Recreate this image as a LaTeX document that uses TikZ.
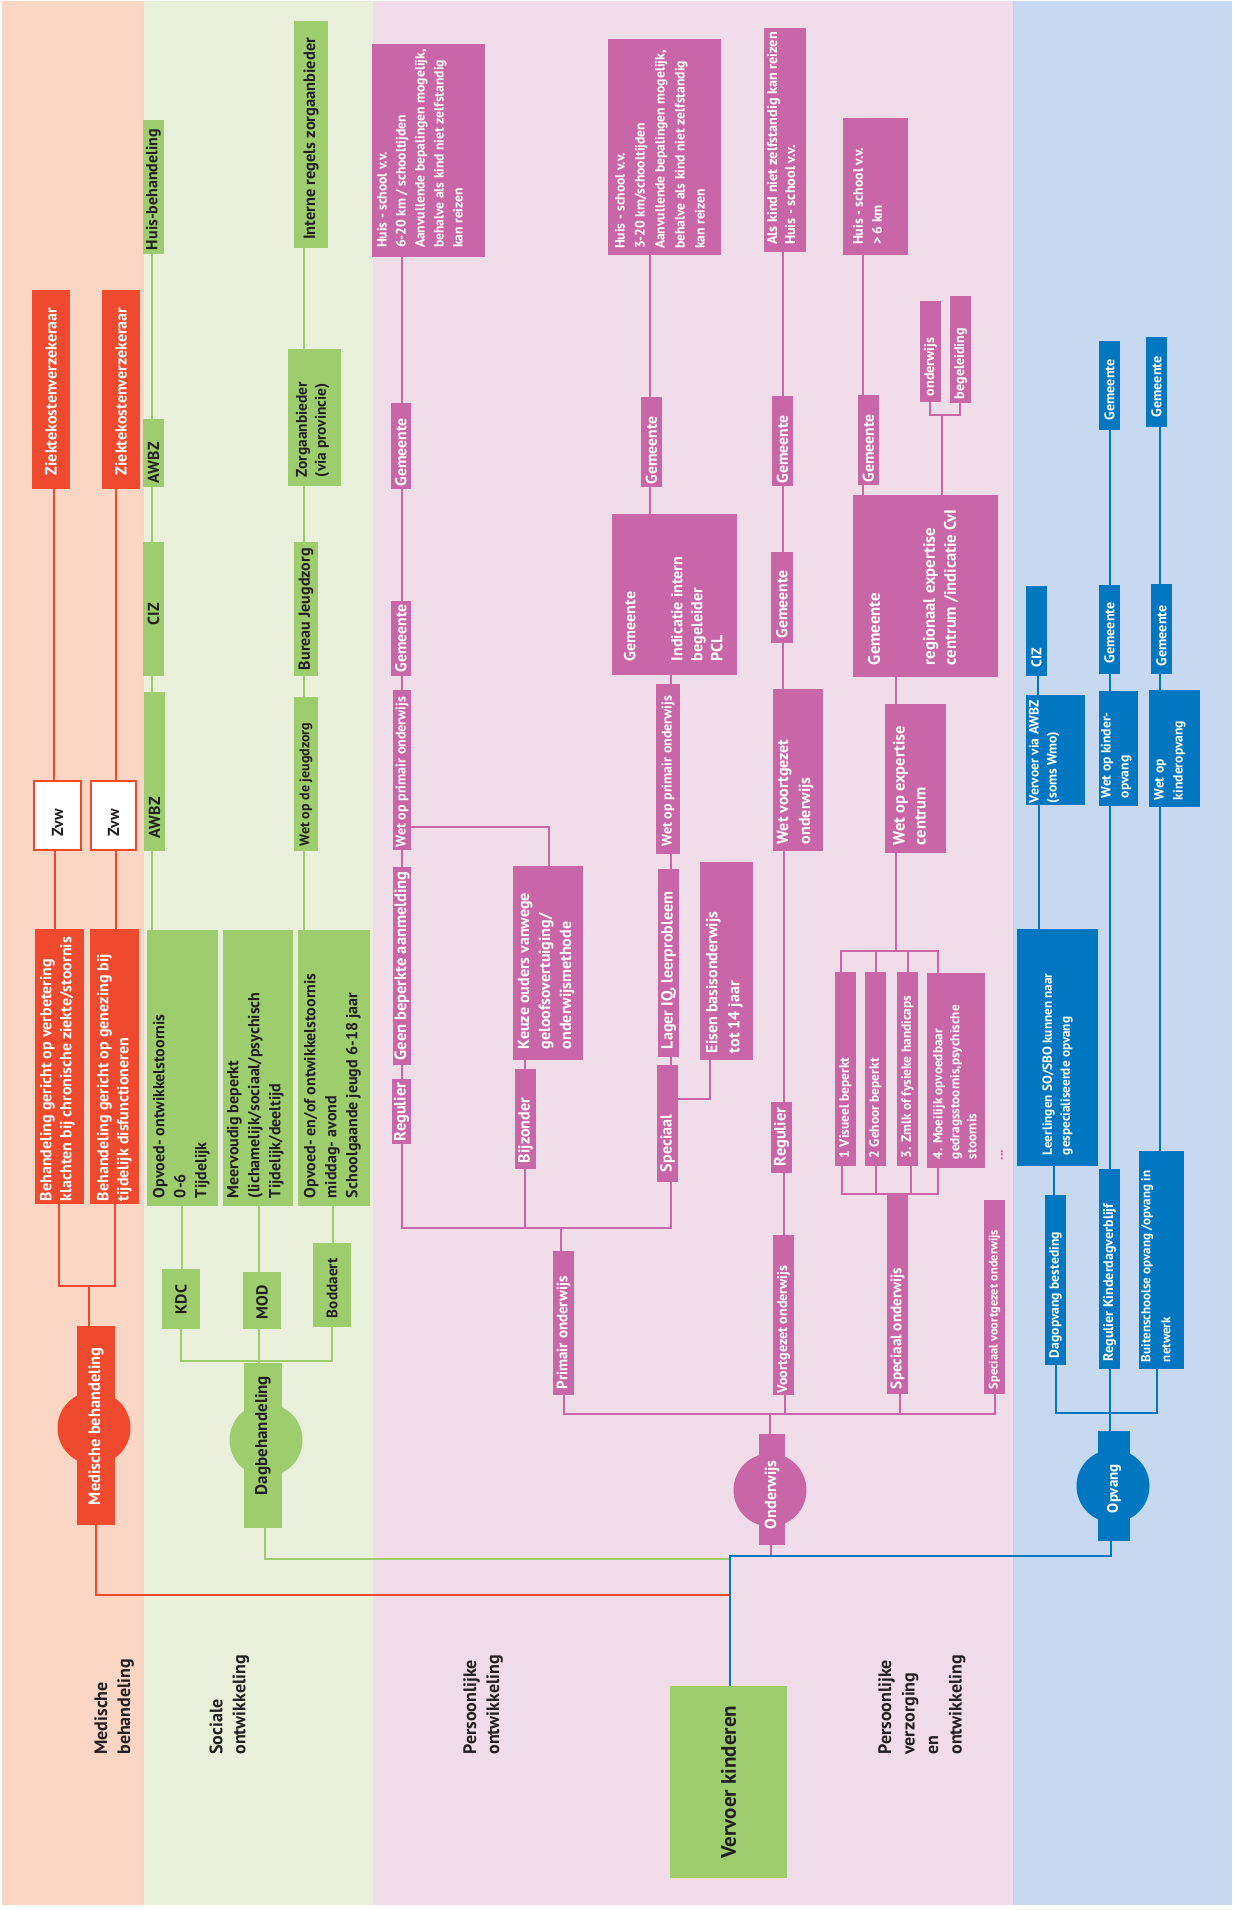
\documentclass[tikz,border=0pt]{standalone}
\usepackage{fontspec}
\setmainfont{PT Sans}
\usetikzlibrary{fit}
\definecolor{cR}{HTML}{EF4A2E}
\definecolor{cG}{HTML}{9DCD6D}
\definecolor{cP}{HTML}{C966A7}
\definecolor{cB}{HTML}{0077C0}
\definecolor{cK}{HTML}{231F20}
\definecolor{bgR}{HTML}{FBD6C4}
\definecolor{bgG}{HTML}{E9F1DD}
\definecolor{bgP}{HTML}{F1DDEA}
\definecolor{bgB}{HTML}{C7D9F0}
\newcommand\fz[2]{\fontsize{#1}{#2}\selectfont\bfseries}
% box with text anchored at bottom-left
\newcommand\bx[8]{%
  \node[fit={#3 #4}, #2] (#1) {};
  \node[#5] (#1t) at ([shift={(#6,-#7)}]#1.south west) {#8};}
% box with text centred across, starting at bottom
\newcommand\bxc[7]{%
  \node[fit={#3 #4}, #2] (#1) {};
  \node[#5, anchor=west] (#1t) at ([shift={(0,-#6)}]#1.south) {#7};}
\begin{document}
\begin{tikzpicture}[x=0.5pt,y=-0.5pt,
  bR/.style={fill=cR, inner sep=0pt},
  bG/.style={fill=cG, inner sep=0pt},
  bP/.style={fill=cP, inner sep=0pt},
  bB/.style={fill=cB, inner sep=0pt},
  bZ/.style={fill=white, draw=cR, line width=1pt, inner sep=0pt},
  tx/.style={rotate=90, anchor=north west, inner sep=0pt, align=left, font={\fz{8}{10.5}}},
  tW/.style={tx, text=white},
  tK/.style={tx, text=cK},
  lR/.style={draw=cR, line width=1pt},
  lG/.style={draw=cG, line width=1pt},
  lP/.style={draw=cP, line width=1pt},
  lB/.style={draw=cB, line width=1pt},
  circ/.style={circle, minimum size=36.5pt, inner sep=0pt}]
\useasboundingbox (0,0) rectangle (1232,1910);
% lanes
\fill[bgR] (2,1) rectangle (143,1905);
\fill[bgG] (143,1) rectangle (373,1905);
\fill[bgP] (373,1) rectangle (1013,1905);
\fill[bgB] (1013,1) rectangle (1232,1905);
\draw[draw=cR!25, line width=0.4pt] (143,1) -- (143,1905);
\draw[draw=cG!40, line width=0.4pt] (373,1) -- (373,1905);
\draw[draw=cB!30, line width=0.4pt] (1013,1) -- (1013,1905);

% x coordinates of connectors
\foreach \v in {54,55,59,89,115,116,152,181,182,259,265,304,332,333,402,525,549,561,564,650,671,710,730,771,783,784,785,841,842,863,876,896,900,908,911,930,938,942,960,995,1038,1039,1054,1056,1110,1157,1160}
  {\coordinate (X\v) at (\v,0);}
\coordinate (RJ) at (89,1286);
\coordinate (RE) at (730,1595);
\coordinate (GJ) at (259,1361);
\coordinate (GE) at (730,1559);
\coordinate (BE) at (730,1556);
\coordinate (BO) at (1111,1556);
\coordinate (PJ) at (561,1228);
\coordinate (PK) at (549,827);
\coordinate (PE) at (0,1099);
\coordinate (OJ) at (942,415);
\coordinate (BJ) at (896,951);
\coordinate (SJ) at (897,1194);
\coordinate (HJ) at (770,1414);
\coordinate (QJ) at (1110,1413);

% ---------- medical ----------
\bxc{zk1}{bR}{(32,290)}{(70,489)}{tW}{14}{Ziektekostenverzekeraar}
\bxc{zk2}{bR}{(102,290)}{(140,489)}{tW}{14}{Ziektekostenverzekeraar}
\bxc{zvw1}{bZ}{(34,781)}{(81,850)}{tK}{14}{Zvw}
\bxc{zvw2}{bZ}{(91,781)}{(136,850)}{tK}{14}{Zvw}
\bx{beh1}{bR}{(35,929)}{(84,1204)}{tW,font={\fz{8}{10}}}{5}{3}{Behandeling gericht op verbetering\\klachten bij chronische ziekte/stoornis}
\bx{beh2}{bR}{(90,929)}{(139,1204)}{tW,font={\fz{8}{10}}}{7}{3}{Behandeling gericht op genezing bij\\tijdelijk disfunctioneren}
\node[circ, fill=cR] (medc) at (94,1428) {};
\bxc{medr}{bR}{(77,1326)}{(115,1525)}{tW,font={\fz{8.2}{10}}}{20}{Medische behandeling}

% ---------- social ----------
\bxc{huisb}{bG}{(143,120)}{(164,254)}{tK}{4}{Huis-behandeling}
\bxc{awbz1}{bG}{(143,419)}{(164,487)}{tK}{4}{AWBZ}
\bxc{ciz1}{bG}{(143,542)}{(164,676)}{tK}{51}{CIZ}
\bxc{awbz2}{bG}{(144,692)}{(165,851)}{tK}{13}{AWBZ}
\bxc{intern}{bG}{(294,21)}{(328,248)}{tK,font={\fz{8.2}{10}}}{8}{Interne regels zorgaanbieder}
\bx{zorg}{bG}{(288,349)}{(341,486)}{tK,font={\fz{7.7}{9.5}}}{8}{9}{Zorgaanbieder\\(via provincie)}
\bxc{bjz}{bG}{(294,542)}{(318,676)}{tK}{6}{Bureau Jeugdzorg}
\bxc{wjz}{bG}{(294,697)}{(318,851)}{tK,font={\fz{7}{9}}}{5}{Wet op de jeugdzorg}
\bx{gA}{bG}{(147,930)}{(218,1206)}{tK}{6}{8}{Opvoed- ontwikkelstoornis\\0-6\\Tijdelijk}
\bx{gB}{bG}{(223,930)}{(293,1206)}{tK}{4}{8}{Meervoudig beperkt\\(lichamelijk/sociaal/psychisch\\Tijdelijk/deeltijd}
\bx{gC}{bG}{(298,930)}{(370,1206)}{tK}{6}{8}{Opvoed- en/of ontwikkelstoornis\\middag- avond\\Schoolgaande jeugd 6-18 jaar}
\bxc{kdc}{bG}{(162,1269)}{(200,1329)}{tK}{15}{KDC}
\bxc{mod}{bG}{(243,1272)}{(281,1329)}{tK}{10}{MOD}
\bxc{bod}{bG}{(313,1243)}{(351,1327)}{tK,font={\fz{7.6}{9}}}{9}{Boddaert}
\node[circ, fill=cG] (dagc) at (266,1440) {};
\bxc{dagr}{bG}{(244,1363)}{(282,1528)}{tK,font={\fz{8.5}{10}}}{33}{Dagbehandeling}

% ---------- personal: primary ----------
\bx{hs1}{bP}{(372,44)}{(485,257)}{tW,font={\fz{6.8}{9.5}}}{5}{9}{Huis - school v.v.\\6-20 km / schooltijden\\Aanvullende bepalingen mogelijk,\\behalve als kind niet zelfstandig\\kan reizen}
\bxc{g1a}{bP}{(391,403)}{(411,489)}{tW,font={\fz{7.8}{9}}}{3}{Gemeente}
\bxc{g1b}{bP}{(391,601)}{(411,676)}{tW,font={\fz{7.8}{9}}}{4}{Gemeente}
\bxc{wpo1}{bP}{(393,690)}{(411,850)}{tW,font={\fz{7}{9}}}{3}{Wet op primair onderwijs}
\bxc{geen}{bP}{(393,867)}{(411,1065)}{tW,font={\fz{8.2}{9}}}{5}{Geen beperkte aanmelding}
\bxc{reg1}{bP}{(392,1079)}{(411,1144)}{tW,font={\fz{8.2}{9}}}{3}{Regulier}
\bx{keuze}{bP}{(513,866)}{(583,1060)}{tW}{5}{11}{Keuze ouders vanwege\\geloofsovertuiging/\\onderwijsmethode}
\bxc{bijz}{bP}{(515,1069)}{(536,1169)}{tW}{6}{Bijzonder}
\bxc{prim}{bP}{(553,1251)}{(574,1395)}{tW,font={\fz{7.5}{9}}}{6}{Primair onderwijs}
\bx{hs2}{bP}{(608,39)}{(721,255)}{tW,font={\fz{6.8}{10}}}{7}{6}{Huis - school v.v.\\3-20 km/schooltijden\\Aanvullende bepalingen mogelijk,\\behalve als kind niet zelfstandig\\kan reizen}
\bxc{g2a}{bP}{(641,397)}{(662,487)}{tW,font={\fz{7.8}{9}}}{3}{Gemeente}
\bx{ind}{bP}{(612,514)}{(737,675)}{tW,font={\fz{8}{10}}}{12}{14}{Gemeente\\[13.5pt]Indicatie intern\\begeleider\\PCL}
\bxc{wpo2}{bP}{(656,684)}{(680,854)}{tW,font={\fz{7}{9}}}{8}{Wet op primair onderwijs}
\bxc{lager}{bP}{(658,869)}{(679,1057)}{tW}{8}{Lager IQ, leerprobleem}
\bxc{spec}{bP}{(657,1065)}{(678,1182)}{tW}{10}{Speciaal}
\bx{eisen}{bP}{(700,862)}{(753,1060)}{tW,font={\fz{8}{11}}}{6}{7}{Eisen basisonderwijs\\tot 14 jaar}

% ---------- personal: secondary ----------
\bx{hs3}{bP}{(764,28)}{(806,252)}{tW,font={\fz{7.1}{9}}}{3}{7}{Als kind niet zelfstandig kan reizen\\Huis - school v.v.}
\bxc{g3a}{bP}{(772,396)}{(793,486)}{tW,font={\fz{7.8}{9}}}{3}{Gemeente}
\bxc{g3b}{bP}{(771,552)}{(793,643)}{tW,font={\fz{7.8}{9}}}{5}{Gemeente}
\bx{wvo}{bP}{(773,689)}{(823,851)}{tW,font={\fz{8}{11}}}{4}{7}{Wet voortgezet\\onderwijs}
\bxc{reg3}{bP}{(771,1102)}{(792,1173)}{tW,font={\fz{8.2}{9}}}{7}{Regulier}
\bxc{vo}{bP}{(773,1235)}{(794,1395)}{tW,font={\fz{7}{9}}}{2}{Voortgezet onderwijs}

% ---------- personal: expertise ----------
\bx{hs4}{bP}{(843,118)}{(908,255)}{tW,font={\fz{6.9}{9.5}}}{10}{10}{Huis - school v.v.\\\textgreater{} 6 km}
\bxc{g4}{bP}{(858,395)}{(879,485)}{tW,font={\fz{7.8}{9}}}{3}{Gemeente}
\bxc{ondw}{bP}{(920,301)}{(941,402)}{tW,font={\fz{7}{9}}}{6}{onderwijs}
\bxc{begl}{bP}{(950,296)}{(971,403)}{tW,font={\fz{7}{9}}}{4}{begeleiding}
\bx{rec}{bP}{(853,495)}{(998,677)}{tW,font={\fz{8.3}{10.5}}}{15}{12}{Gemeente\\[17pt]regionaal expertise\\centrum /indicatie CvI}
\bx{woec}{bP}{(885,704)}{(946,853)}{tW,font={\fz{8.2}{10.5}}}{8}{8}{Wet op expertise\\centrum}
\bxc{vis}{bP}{(835,972)}{(856,1166)}{tW,font={\fz{6.7}{9}}}{8}{1 Visueel beperkt}
\bxc{geh}{bP}{(865,972)}{(886,1166)}{tW,font={\fz{6.7}{9}}}{8}{2 Gehoor beperkt}
\bxc{zmlk}{bP}{(897,972)}{(918,1166)}{tW,font={\fz{6.7}{9}}}{8}{3. Zmlk of fysieke handicaps}
\bx{moei}{bP}{(927,973)}{(985,1168)}{tW,font={\fz{6.6}{8.5}}}{6}{9}{4. Moeilijk opvoedbaar\\gedragsstoornis,psychische\\stoornis}
\node[rotate=90, text=cP, font={\fz{7}{9}}, inner sep=0pt] (dots) at (1002,1155) {...};
\bxc{speco}{bP}{(887,1195)}{(908,1394)}{tW,font={\fz{7.6}{9}}}{5}{Speciaal onderwijs}
\bxc{specvo}{bP}{(984,1200)}{(1005,1394)}{tW,font={\fz{6.2}{9}}}{5}{Speciaal voortgezet onderwijs}
\node[circ, fill=cP] (ondc) at (770,1490) {};
\bxc{ondr}{bP}{(759,1434)}{(785,1545)}{tW}{16}{Onderwijs}

% ---------- opvang ----------
\bxc{ciz2}{bB}{(1026,586)}{(1047,676)}{tW,font={\fz{7}{9}}}{9}{CIZ}
\bx{vva}{bB}{(1026,695)}{(1085,805)}{tW,font={\fz{6.8}{9}}}{3}{2}{Vervoer via AWBZ\\(soms Wmo)}
\bxc{leer}{bB}{(1017,929)}{(1098,1166)}{tW,font={\fz{6.6}{9}}}{11}{Leerlingen SO/SBO kunnen naar\\gespecialiseerde opvang}
\bxc{dag}{bB}{(1045,1195)}{(1066,1365)}{tW,font={\fz{6.8}{9}}}{7}{Dagopvang besteding}
\bxc{gb2a}{bB}{(1099,341)}{(1120,430)}{tW,font={\fz{7}{9}}}{10}{Gemeente}
\bxc{gb2b}{bB}{(1099,585)}{(1120,674)}{tW,font={\fz{7}{9}}}{11}{Gemeente}
\bx{wok}{bB}{(1099,691)}{(1138,806)}{tW,font={\fz{6.8}{9}}}{2}{8}{Wet op kinder-\\opvang}
\bxc{regk}{bB}{(1099,1169)}{(1120,1369)}{tW,font={\fz{7}{9}}}{8}{Regulier Kinderdagverblijf}
\bxc{gb3a}{bB}{(1146,337)}{(1167,427)}{tW,font={\fz{7}{9}}}{10}{Gemeente}
\bxc{gb3b}{bB}{(1151,584)}{(1172,674)}{tW,font={\fz{7}{9}}}{8}{Gemeente}
\bx{wok2}{bB}{(1149,690)}{(1200,807)}{tW,font={\fz{6.8}{9.5}}}{5}{7}{Wet op\\kinderopvang}
\bx{bso}{bB}{(1139,1151)}{(1184,1369)}{tW,font={\fz{6.5}{10}}}{2}{7}{Buitenschoolse opvang /opvang in\\netwerk}
\node[circ, fill=cB] (opvc) at (1113,1486) {};
\bxc{opvr}{bB}{(1098,1431)}{(1130,1541)}{tW,font={\fz{7.5}{9}}}{28}{Opvang}

% ---------- vervoer ----------
\node[bG, fit={(670,1686) (787,1878)}] (vervoer) {};
\node[tK, anchor=center, font={\fz{10.5}{12}}] (vervoert) at (vervoer.center) {Vervoer kinderen};

% ---------- lane labels ----------
\node[tK, font={\fz{9}{11.5}}] (lab1) at (94,1755) {Medische\\behandeling};
\node[tK, font={\fz{9}{11.5}}] (lab2) at (209,1755) {Sociale\\ontwikkeling};
\node[tK, font={\fz{9}{11.5}}] (lab3) at (463,1755) {Persoonlijke\\ontwikkeling};
\node[tK, font={\fz{9}{11.75}}] (lab4) at (878,1755) {Persoonlijke\\verzorging\\en\\ontwikkeling};

% ---------- connectors: red ----------
\draw[lR] (zk1.south -| X54) -- (zvw1.north -| X54);
\draw[lR] (zvw1.south -| X55) -- (beh1.north -| X55);
\draw[lR] (zk2.south -| X116) -- (zvw2.north -| X116);
\draw[lR] (zvw2.south -| X116) -- (beh2.north -| X116);
\draw[lR] (beh1.south -| X59) |- (RJ) -| (beh2.south -| X115);
\draw[lR] (RJ) -- (medr.north -| RJ);
\draw[lR] (medr.south) |- (RE);

% ---------- connectors: green ----------
\draw[lG] (huisb.south -| X152) -- (awbz1.north -| X152);
\draw[lG] (awbz1.south -| X152) -- (ciz1.north -| X152);
\draw[lG] (ciz1.south -| X152) -- (awbz2.north -| X152);
\draw[lG] (awbz2.south -| X152) -- (gA.north -| X152);
\draw[lG] (intern.south -| X304) -- (zorg.north -| X304);
\draw[lG] (zorg.south -| X304) -- (bjz.north -| X304);
\draw[lG] (bjz.south -| X304) -- (wjz.north -| X304);
\draw[lG] (wjz.south -| X304) -- (gC.north -| X304);
\draw[lG] (gA.south -| X182) -- (kdc.north -| X182);
\draw[lG] (gB.south -| X259) -- (mod.north -| X259);
\draw[lG] (gC.south -| X333) -- (bod.north -| X333);
\draw[lG] (kdc.south -| X181) |- (GJ) -| (bod.south -| X332);
\draw[lG] (mod.south -| X259) -- (dagr.north -| X259);
\draw[lG] (dagr.south -| X265) |- (GE);

% ---------- connectors: pink ----------
\draw[lP] (hs1.south -| X402) -- (g1a.north -| X402);
\draw[lP] (g1a.south -| X402) -- (g1b.north -| X402);
\draw[lP] (g1b.south -| X402) -- (wpo1.north -| X402);
\draw[lP] (wpo1.south -| X402) -- (geen.north -| X402);
\draw[lP] (geen.south -| X402) -- (reg1.north -| X402);
\draw[lP] (reg1.south -| X402) |- (PJ) -| (spec.south -| X671);
\draw[lP] (wpo1.east |- PK) -| (keuze.north -| PK);
\draw[lP] (keuze.south -| X525) -- (bijz.north -| X525);
\draw[lP] (bijz.south -| X525) -- (X525 |- PJ);
\draw[lP] (PJ) -- (prim.north -| PJ);
\draw[lP] (hs2.south -| X650) -- (g2a.north -| X650);
\draw[lP] (g2a.south -| X650) -- (ind.north -| X650);
\draw[lP] (ind.south -| X671) -- (wpo2.north -| X671);
\draw[lP] (wpo2.south -| X671) -- (lager.north -| X671);
\draw[lP] (lager.south -| X671) -- (spec.north -| X671);
\draw[lP] (eisen.south -| X710) |- (spec.east |- PE);
\draw[lP] (hs3.south -| X783) -- (g3a.north -| X783);
\draw[lP] (g3a.south -| X783) -- (g3b.north -| X783);
\draw[lP] (g3b.south -| X783) -- (wvo.north -| X783);
\draw[lP] (wvo.south -| X784) -- (reg3.north -| X784);
\draw[lP] (reg3.south -| X784) -- (vo.north -| X784);
\draw[lP] (hs4.south -| X863) -- (g4.north -| X863);
\draw[lP] (g4.south -| X863) -- (rec.north -| X863);
\draw[lP] (ondw.south -| X930) |- (OJ) -| (begl.south -| X960);
\draw[lP] (OJ) -- (rec.north -| OJ);
\draw[lP] (rec.south -| X896) -- (woec.north -| X896);
\draw[lP] (woec.south -| X896) -- (BJ);
\draw[lP] (vis.north -| X841) |- (BJ) -| (moei.north -| X938);
\draw[lP] (geh.north -| X876) -- (X876 |- BJ);
\draw[lP] (zmlk.north -| X908) -- (X908 |- BJ);
\draw[lP] (vis.south -| X842) |- (SJ) -| (moei.south -| X938);
\draw[lP] (geh.south -| X876) -- (X876 |- SJ);
\draw[lP] (zmlk.south -| X911) -- (X911 |- SJ);
\draw[lP] (prim.south -| X564) |- (HJ) -| (specvo.south -| X995);
\draw[lP] (vo.south -| X785) -- (X785 |- HJ);
\draw[lP] (speco.south -| X900) -- (X900 |- HJ);
\draw[lP] (HJ) -- (ondr.north -| HJ);
\draw[lP] (ondr.south -| X771) -- (X771 |- BE);

% ---------- connectors: blue ----------
\draw[lB] (ciz2.south -| X1038) -- (vva.north -| X1038);
\draw[lB] (vva.south -| X1039) -- (leer.north -| X1039);
\draw[lB] (leer.south -| X1054) -- (dag.north -| X1054);
\draw[lB] (gb2a.south -| X1110) -- (gb2b.north -| X1110);
\draw[lB] (gb2b.south -| X1110) -- (wok.north -| X1110);
\draw[lB] (wok.south -| X1110) -- (regk.north -| X1110);
\draw[lB] (regk.south -| X1110) -- (opvr.north -| X1110);
\draw[lB] (gb3a.south -| X1160) -- (gb3b.north -| X1160);
\draw[lB] (gb3b.south -| X1160) -- (wok2.north -| X1160);
\draw[lB] (wok2.south -| X1160) -- (bso.north -| X1160);
\draw[lB] (dag.south -| X1056) |- (QJ) -| (bso.south -| X1157);
\draw[lB] (vervoer.north -| X730) -- (BE) -- (BO) -- (opvr.south -| BO);
\end{tikzpicture}
\end{document}
